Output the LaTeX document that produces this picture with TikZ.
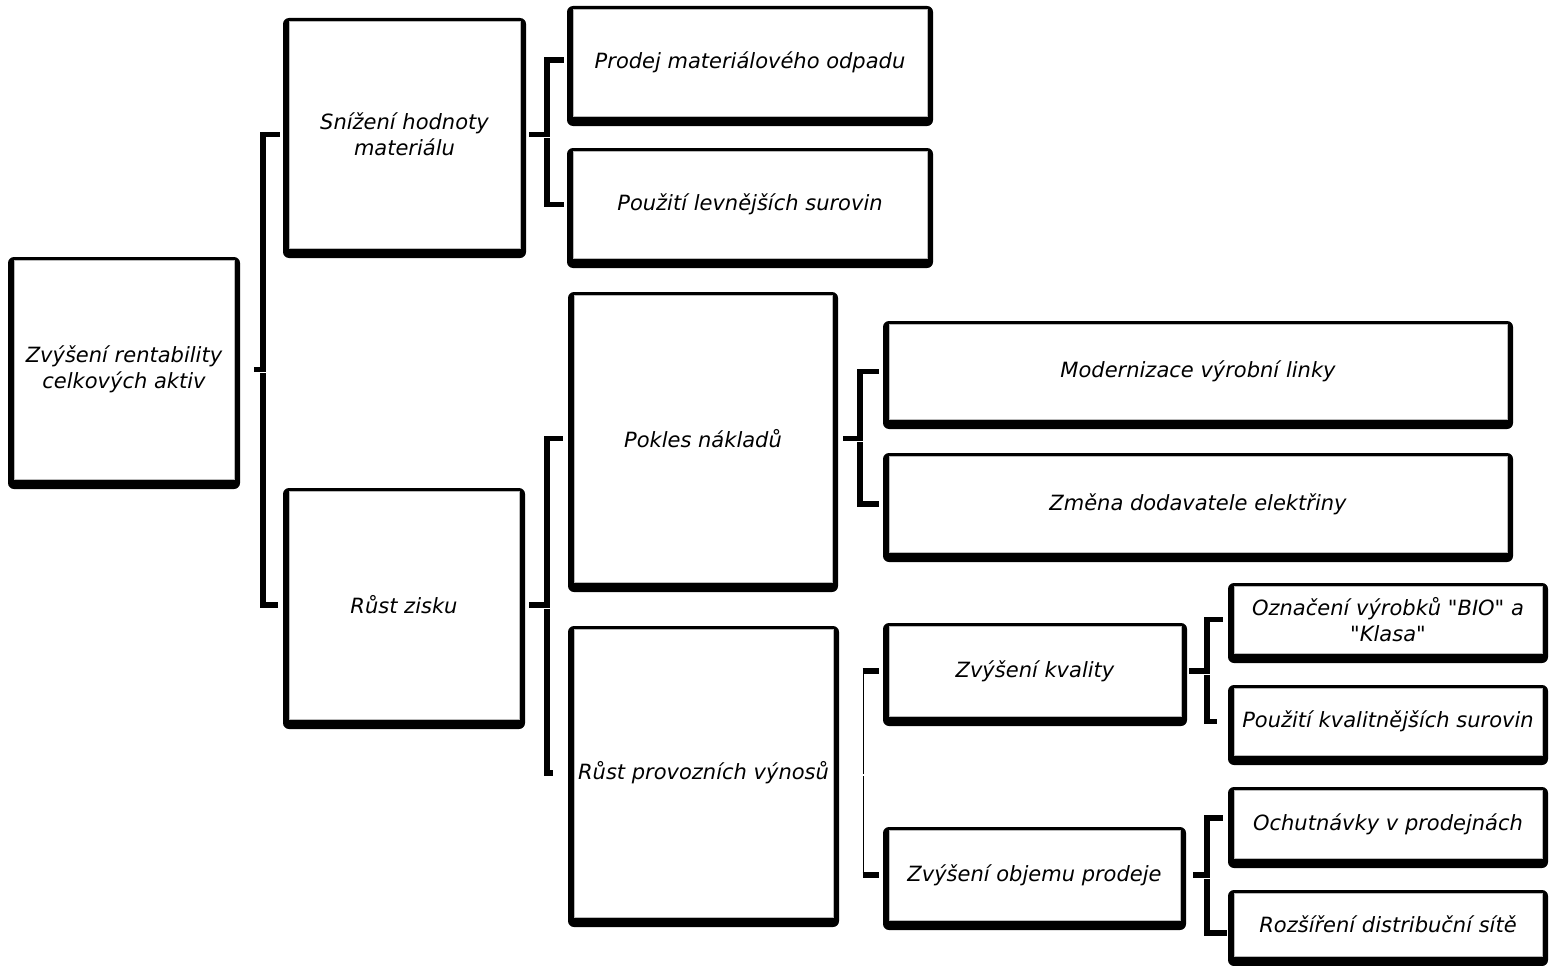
\documentclass[tikz,border=0pt]{standalone}
\usepackage{fontspec}
\setmainfont{DejaVu Sans}[Ligatures=TeXOff]
\usetikzlibrary{calc}
\pgfdeclarelayer{background}
\pgfsetlayers{background,main}
\begin{document}
\begin{tikzpicture}[x=1pt,y=-1pt,
  tb/.style={fill=white, draw=gray!55, line width=0.8pt, inner sep=2pt, outer sep=0pt,
    align=center, font=\itshape\fontsize{21}{25.5}\selectfont},
  br/.style={line width=5.5pt, line cap=butt, line join=miter},
  thinbar/.style={line width=1.6pt}
]
\useasboundingbox (0,0) rectangle (1550,966);

% boxes (white inner areas)
\node[tb, minimum width=220pt, minimum height=219pt] (root) at (124,369.5) {Zvýšení rentability\\celkových aktiv};
\node[tb, minimum width=231pt, minimum height=227pt] (snizeni) at (404.5,134.5) {Snížení hodnoty\\materiálu};
\node[tb, minimum width=354pt, minimum height=107pt] (prodej) at (750,62.5) {Prodej materiálového odpadu};
\node[tb, minimum width=354pt, minimum height=107pt] (levnejsi) at (750,204.5) {Použití levnějších surovin};
\node[tb, minimum width=258pt, minimum height=287pt] (pokles) at (703,438.5) {Pokles nákladů};
\node[tb, minimum width=618pt, minimum height=95pt] (modern) at (1198,371.5) {Modernizace výrobní linky};
\node[tb, minimum width=618pt, minimum height=96pt] (zmena) at (1198,504) {Změna dodavatele elektřiny};
\node[tb, minimum width=230pt, minimum height=228pt] (zisk) at (404,605) {Růst zisku};
\node[tb, minimum width=259pt, minimum height=288pt, inner sep=0pt] (provoz) at (703.5,773) {Růst provozních výnosů};
\node[tb, minimum width=292pt, minimum height=90pt] (kvalita) at (1035,671) {Zvýšení kvality};
\node[tb, minimum width=291pt, minimum height=90pt] (objem) at (1034.5,875) {Zvýšení objemu prodeje};
\node[tb, minimum width=308pt, minimum height=67pt] (oznaceni) at (1388,619.5) {Označení výrobků "BIO" a\\"Klasa"};
\node[tb, minimum width=308pt, minimum height=67pt, inner sep=0pt] (kvalitnejsi) at (1388,721.5) {Použití kvalitnějších surovin};
\node[tb, minimum width=308pt, minimum height=68pt] (ochut) at (1388,824) {Ochutnávky v prodejnách};
\node[tb, minimum width=308pt, minimum height=63pt] (rozsir) at (1388,924.5) {Rozšíření distribuční sítě};

% black frames / shadows behind
\begin{pgfonlayer}{background}
\foreach \n in {root,snizeni,prodej,levnejsi,pokles,modern,zmena,zisk,provoz,kvalita,objem,oznaceni,kvalitnejsi,ochut,rozsir}
  \fill[black, rounded corners=6pt] ([shift={(-6pt,3pt)}]\n.north west) rectangle ([shift={(6pt,-10pt)}]\n.south east);
\end{pgfonlayer}

% bar junctions
\coordinate (rootbar) at (263,369.5);
\coordinate (snizbar) at (547,134.5);
\coordinate (zisbar) at (547,605);
\coordinate (poklbar) at (860,438.5);
\coordinate (provbar) at (863.5,775);
\coordinate (kvalbar) at (1207,671);
\coordinate (objbar) at (1207,875);

% root bracket
\draw[br] ([xshift=20pt]root.east) -- (rootbar) |- ([xshift=-9pt]snizeni.west);
\draw[br] ([yshift=-3.5pt]rootbar) |- ([xshift=-11pt]zisk.west);

% snizeni bracket
\draw[br] ([xshift=9pt]snizeni.east) -- (snizbar) |- ([xshift=-9pt,yshift=2.5pt]prodej.west);
\draw[br] ([yshift=-3.5pt]snizbar) |- ([xshift=-9pt]levnejsi.west);

% zisk bracket
\draw[br] ([xshift=10pt]zisk.east) -- (zisbar) |- ([xshift=-11pt]pokles.west);
\draw[br] ([yshift=-3.5pt]zisbar) |- ([xshift=-21pt]provoz.west);

% pokles bracket
\draw[br] ([xshift=11pt]pokles.east) -- (poklbar) |- ([xshift=-10pt]modern.west);
\draw[br] ([yshift=-3.5pt]poklbar) |- ([xshift=-10pt]zmena.west);

% provoz bracket (thin bar)
\draw[thinbar] ([yshift=1pt]provbar) -- (provbar |- kvalita.west);
\draw[thinbar] ([yshift=-1pt]provbar) -- (provbar |- objem.west);
\draw[br] ([xshift=-0.8pt]provbar |- kvalita.west) -- ([xshift=-10pt]kvalita.west);
\draw[br] ([xshift=-0.8pt]provbar |- objem.west) -- ([xshift=-10pt]objem.west);

% kvalita bracket
\draw[br] ([xshift=8pt]kvalita.east) -- (kvalbar) |- ([xshift=-11pt]oznaceni.west);
\draw[br] ([yshift=-3.5pt]kvalbar) |- ([xshift=-17pt]kvalitnejsi.west);

% objem bracket
\draw[br] ([xshift=13pt]objem.east) -- (objbar) |- ([xshift=-11pt,yshift=6pt]ochut.west);
\draw[br] ([yshift=-3.5pt]objbar) |- ([xshift=-7pt,yshift=-8.5pt]rozsir.west);
\end{tikzpicture}
\end{document}
